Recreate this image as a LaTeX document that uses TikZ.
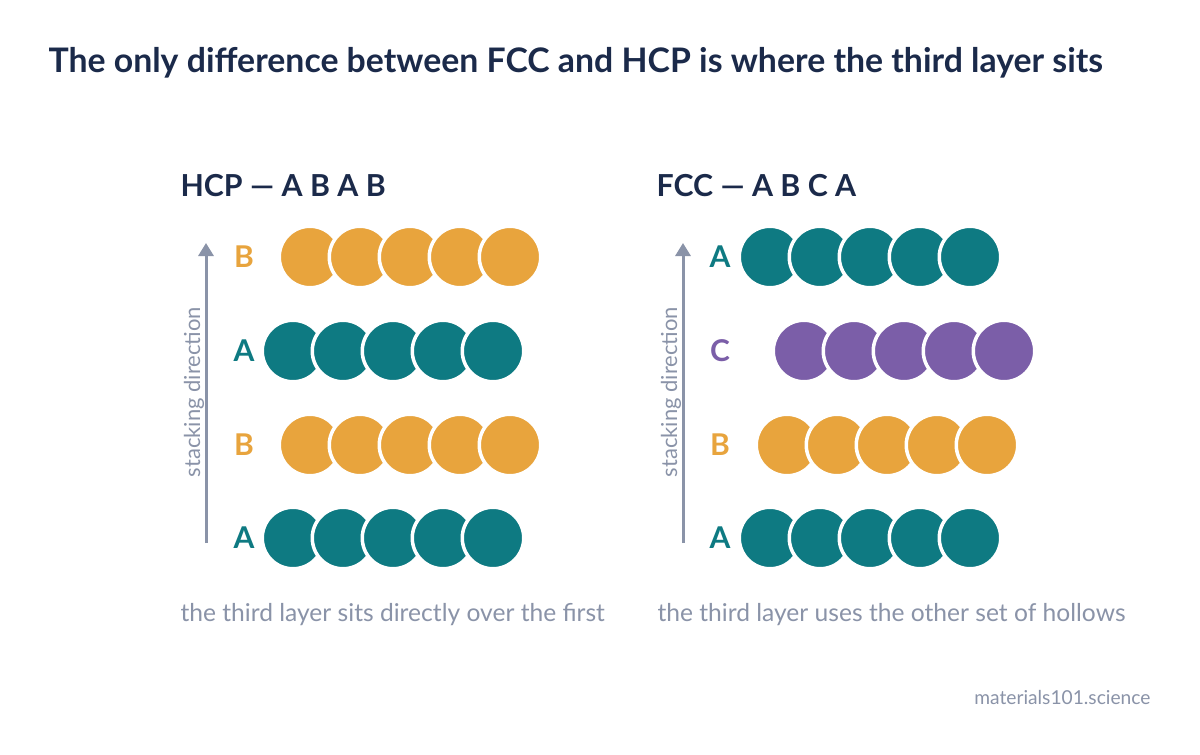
\documentclass[tikz,border=0pt]{standalone}
\usepackage{fontspec}
\setmainfont{Lato}
\usetikzlibrary{arrows.meta}
\definecolor{navy}{HTML}{1B2A4A}
\definecolor{layerA}{HTML}{0E7A82}
\definecolor{layerB}{HTML}{E8A43D}
\definecolor{layerC}{HTML}{7B5EA8}
\definecolor{softgray}{HTML}{8A93A8}
\tikzset{
    atom/.style = {circle, draw = white, line width = 3.5pt, minimum size = 61.5pt, inner sep = 0pt},
    layerlab/.style = {anchor = base, font = \bfseries\fontsize{30}{34}\selectfont},
    stackarrow/.style = {color = softgray, line width = 3pt, -{Triangle[width = 15pt, length = 13pt]}},
    caption/.style = {anchor = base west, color = softgray, font = \fontsize{24.6}{30}\selectfont},
    heading/.style = {anchor = base west, color = navy, font = \bfseries\fontsize{30.3}{36}\selectfont},
    stacktext/.style = {rotate = 90, anchor = base, color = softgray, font = \fontsize{22}{26}\selectfont}
}
\begin{document}
\begin{tikzpicture}[x = 1pt, y = -1pt]
        \useasboundingbox [fill = white] (0,0) rectangle (1200,755);
        \node [anchor = base west, color = navy, font = \bfseries\fontsize{33.8}{40}\selectfont] (title) at (45,72)
            {The only difference between FCC and HCP is where the third layer sits};
        % HCP: A B A B
        \node [heading] (hcphead) at (177,196) {HCP — A B A B};
        \coordinate (hcpbot) at (206,543);
        \coordinate (hcptop) at (206,243);
        \draw [stackarrow] (hcpbot) -- (hcptop);
        \node [stacktext] (hcpdir) at (200,392) {stacking direction};
        \foreach \yy/\off/\col/\lab [count = \r] in {538/0/layerA/A, 445/17/layerB/B, 351/0/layerA/A, 257/17/layerB/B} {
            \node [layerlab, color = \col] (hcplab\r) at (244,\yy+10.5) {\lab};
            \foreach \i in {0,...,4}
                \node [atom, fill = \col] (hcp\r\i) at (293+\off+50*\i,\yy) {};
        }
        \node [caption] (hcpcap) at (177,621) {the third layer sits directly over the first};
        % FCC: A B C A
        \node [heading] (fcchead) at (653,196) {FCC — A B C A};
        \coordinate (fccbot) at (683,543);
        \coordinate (fcctop) at (683,243);
        \draw [stackarrow] (fccbot) -- (fcctop);
        \node [stacktext] (fccdir) at (677,392) {stacking direction};
        \foreach \yy/\off/\col/\lab [count = \r] in {538/0/layerA/A, 445/17/layerB/B, 351/34/layerC/C, 257/0/layerA/A} {
            \node [layerlab, color = \col] (fcclab\r) at (720,\yy+10.5) {\lab};
            \foreach \i in {0,...,4}
                \node [atom, fill = \col] (fcc\r\i) at (770+\off+50*\i,\yy) {};
        }
        \node [caption] (fcccap) at (654,621) {the third layer uses the other set of hollows};
        \node [anchor = base east, color = softgray, font = \fontsize{19.2}{24}\selectfont] (site) at (1154,704) {materials101.science};
    \end{tikzpicture}
\end{document}
